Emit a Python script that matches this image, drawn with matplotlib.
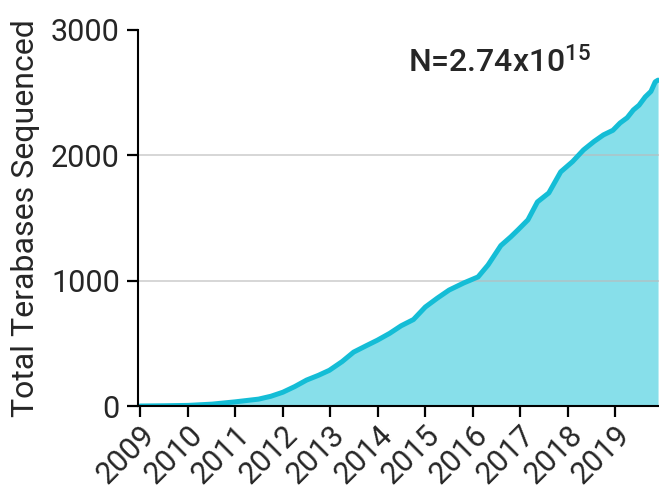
import matplotlib
matplotlib.use("Agg")
import matplotlib.pyplot as plt

plt.rcParams['font.family'] = ['Roboto', 'DejaVu Sans']
plt.rcParams['mathtext.fontset'] = 'custom'
plt.rcParams['mathtext.rm'] = 'Roboto'
plt.rcParams['mathtext.default'] = 'regular'

# cumulative terabases
years = [2009.00, 2009.50, 2010.01, 2010.51, 2010.99, 2011.49, 2011.75, 2012.00,
         2012.25, 2012.50, 2012.75, 2012.98, 2013.25, 2013.49, 2013.75, 2013.99,
         2014.25, 2014.49, 2014.75, 2015.00, 2015.25, 2015.50, 2015.81, 2016.11,
         2016.32, 2016.59, 2016.80, 2016.95, 2017.16, 2017.36, 2017.60, 2017.85,
         2018.10, 2018.33, 2018.55, 2018.75, 2018.95, 2019.10, 2019.25, 2019.38,
         2019.50, 2019.63, 2019.75, 2019.84, 2019.90]
terabases = [0, 2, 5, 15, 33, 55, 78, 110,
             155, 207, 245, 285, 355, 430, 480, 525,
             580, 640, 690, 790, 860, 925, 982, 1030,
             1125, 1280, 1350, 1405, 1485, 1628, 1700, 1868,
             1950, 2043, 2110, 2163, 2200, 2258, 2300, 2362,
             2400, 2466, 2510, 2586, 2600]
year_ticks = list(range(2009, 2020))
value_ticks = [0, 1000, 2000, 3000]
grid_values = [1000, 2000]

line_col = '#14BDD6'
fill_col = '#87DFEA'
text_col = '#262626'

fig = plt.figure(figsize=(6.59, 4.90), dpi=100)
ax = fig.add_axes([0.2094, 0.1714, 0.7906, 0.7674])

ax.fill_between(years, terabases, 0, color=fill_col, lw=0, zorder=1)
for g in grid_values:
    ax.axhline(g, color='#bbbbbb', lw=1.2, alpha=0.7, zorder=2)
ax.plot(years, terabases, color=line_col, lw=3.6, solid_capstyle='round', zorder=3)

ax.set_xlim(2008.95, 2019.92)
ax.set_ylim(0, 3000)
ax.set_xticks(year_ticks)
ax.set_xticklabels([str(y) for y in year_ticks], rotation=45, ha='right',
                   rotation_mode='anchor')
ax.set_yticks(value_ticks)

for s in ['top', 'right']:
    ax.spines[s].set_visible(False)
for s in ['left', 'bottom']:
    ax.spines[s].set_linewidth(1.5)
    ax.spines[s].set_color('black')
    ax.spines[s].set_zorder(4)

ax.tick_params(axis='both', length=8, width=1.6, color='black',
               labelsize=22, labelcolor=text_col, pad=5)
ax.tick_params(axis='x', pad=2)
ax.set_ylabel('Total Terabases Sequenced', fontsize=23, color=text_col, labelpad=8)

ax.text(0.519, 0.888, r'N=2.74x10$^{15}$', transform=ax.transAxes,
        fontsize=23, fontweight='medium', color=text_col, ha='left', va='baseline')

fig.savefig('out.png', dpi=100)
